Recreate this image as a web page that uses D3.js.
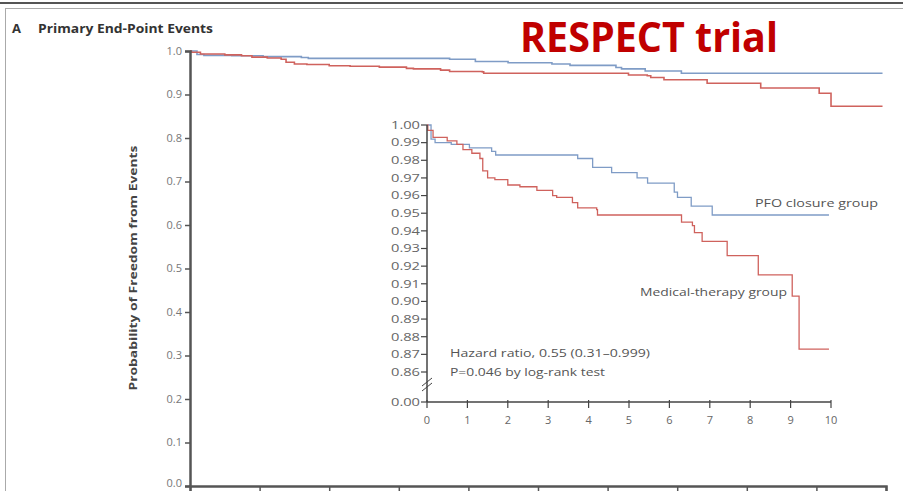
<!DOCTYPE html>
<html>
<head>
<meta charset="utf-8">
<script src="https://cdn.jsdelivr.net/npm/d3@7"></script>
<style>
body { margin: 0; background: #fff; }
text { font-family: "Open Sans", "DejaVu Sans", sans-serif; }
</style>
</head>
<body>
<div id="chart"></div>
<script>
var w = 903;
var h = 491;

// Kaplan-Meier steps (years, probability)
var pfoTimes = [0, 0.1, 0.2, 0.6, 1.05, 1.6, 1.7, 3.73, 4.1, 4.57, 5.2, 5.46, 6.12, 6.2, 6.54, 7.06, 9.95];
var pfoValues = [1.000, 0.992, 0.990, 0.989, 0.987, 0.985, 0.983, 0.981, 0.976, 0.973, 0.970, 0.967, 0.962, 0.959, 0.954, 0.949, 0.949];

var medTimes = [0, 0.02, 0.15, 0.5, 0.74, 0.89, 1.11, 1.31, 1.38, 1.5, 1.68, 2.0, 2.3, 2.72, 3.11, 3.21, 3.6, 3.73, 4.2, 4.22, 6.3, 6.57, 6.62, 6.81, 7.43, 8.2, 9.04, 9.21, 9.95];
var medValues = [1.000, 0.997, 0.993, 0.991, 0.989, 0.986, 0.984, 0.981, 0.974, 0.970, 0.969, 0.966, 0.965, 0.963, 0.960, 0.959, 0.956, 0.953, 0.952, 0.949, 0.945, 0.943, 0.939, 0.934, 0.926, 0.915, 0.903, 0.873, 0.873];

var yearTicks = [0, 1, 2, 3, 4, 5, 6, 7, 8, 9, 10];
var mainYTicks = [0, 0.1, 0.2, 0.3, 0.4, 0.5, 0.6, 0.7, 0.8, 0.9, 1.0];
var insetYTicks = [0.86, 0.87, 0.88, 0.89, 0.90, 0.91, 0.92, 0.93, 0.94, 0.95, 0.96, 0.97, 0.98, 0.99, 1.00];

var blue = "#7f9cc6";
var red = "#cf625d";

var pfo = pfoTimes.map(function(t, i) { return { t: t, v: pfoValues[i] }; });
var med = medTimes.map(function(t, i) { return { t: t, v: medValues[i] }; });

var svg = d3.select("#chart")
	.append("svg")
	.attr("width", w)
	.attr("height", h);

// frame
svg.append("line").attr("x1", 0).attr("x2", w).attr("y1", 3).attr("y2", 3)
	.attr("stroke", "#555").attr("stroke-width", 2);
svg.append("line").attr("x1", 5).attr("x2", w).attr("y1", 8.5).attr("y2", 8.5)
	.attr("stroke", "#aaa").attr("stroke-width", 1);
svg.append("line").attr("x1", 5.5).attr("x2", 5.5).attr("y1", 8).attr("y2", h)
	.attr("stroke", "#aaa").attr("stroke-width", 1);

svg.append("text")
	.attr("x", 12).attr("y", 33)
	.style("font-size", "13px").style("font-weight", "bold").attr("fill", "#333")
	.text("A");
svg.append("text")
	.attr("x", 38).attr("y", 33)
	.attr("textLength", 175).attr("lengthAdjust", "spacingAndGlyphs")
	.style("font-size", "11.5px").style("font-weight", "bold").attr("fill", "#333")
	.text("Primary End-Point Events");

svg.append("text")
	.attr("x", 520).attr("y", 52)
	.attr("textLength", 258).attr("lengthAdjust", "spacingAndGlyphs")
	.style("font-size", "42px").style("font-weight", "bold").attr("fill", "#c00000")
	.text("RESPECT trial");

// main plot
var xScale = d3.scaleLinear().domain([0, 10]).range([190, 886]);
var yScale = d3.scaleLinear().domain([0, 1]).range([486, 51]);

var mainLine = d3.line()
	.curve(d3.curveStepAfter)
	.x(function(d) { return xScale(d.t); })
	.y(function(d) { return yScale(d.v); });

svg.append("path").datum(pfo).attr("d", mainLine)
	.attr("fill", "none").attr("stroke", blue).attr("stroke-width", 1.6);
svg.append("path").datum(med).attr("d", mainLine)
	.attr("fill", "none").attr("stroke", red).attr("stroke-width", 1.6);

var yAxis = d3.axisLeft(yScale).tickValues(mainYTicks).tickFormat(d3.format(".1f")).tickSize(5).tickPadding(3);
var gy = svg.append("g").attr("transform", "translate(190,0)").call(yAxis);
// year labels of the main axis fall below the visible area
var xAxis = d3.axisBottom(xScale).tickValues(yearTicks).tickFormat("").tickSize(6);
var gx = svg.append("g").attr("transform", "translate(0,486)").call(xAxis);

[gx, gy].forEach(function(g) {
	g.select(".domain").attr("stroke", "#555").attr("stroke-width", 2.5);
	g.selectAll(".tick line").attr("stroke", "#555").attr("stroke-width", 1.5);
	g.selectAll(".tick text").attr("fill", "#777").style("font-size", "11px")
		.style("font-family", "'Open Sans', sans-serif");
});
gy.selectAll(".tick text").attr("dy", function(d) { return d === 0 ? "0.05em" : "0.3em"; });

svg.append("text")
	.attr("transform", "translate(137,268) rotate(-90)")
	.style("text-anchor", "middle")
	.attr("textLength", 245).attr("lengthAdjust", "spacingAndGlyphs")
	.style("font-size", "11px").style("font-weight", "bold").attr("fill", "#444")
	.text("Probability of Freedom from Events");

// inset
var ix = d3.scaleLinear().domain([0, 10]).range([427, 831]);
var iy = d3.scaleLinear().domain([0.86, 1.0]).range([372, 125]);
var iBase = 402;

var insetLine = d3.line()
	.curve(d3.curveStepAfter)
	.x(function(d) { return ix(d.t); })
	.y(function(d) { return iy(d.v); });

svg.append("path").datum(pfo).attr("d", insetLine)
	.attr("fill", "none").attr("stroke", blue).attr("stroke-width", 1.3);
svg.append("path").datum(med).attr("d", insetLine)
	.attr("fill", "none").attr("stroke", red).attr("stroke-width", 1.3);

var ig = svg.append("g");
ig.append("line").attr("x1", 427).attr("x2", 427).attr("y1", iy(1.0)).attr("y2", iBase)
	.attr("stroke", "#444").attr("stroke-width", 1.5);
ig.append("line").attr("x1", 427).attr("x2", 831).attr("y1", iBase).attr("y2", iBase)
	.attr("stroke", "#444").attr("stroke-width", 1.5);

ig.selectAll(".yt").data(insetYTicks).enter().append("line")
	.attr("x1", 421).attr("x2", 427)
	.attr("y1", function(d) { return iy(d); }).attr("y2", function(d) { return iy(d); })
	.attr("stroke", "#444").attr("stroke-width", 1.2);
ig.selectAll(".yl").data(insetYTicks).enter().append("text")
	.attr("x", 420).attr("y", function(d) { return iy(d) + 3.8; })
	.attr("text-anchor", "end").attr("textLength", 29).attr("lengthAdjust", "spacingAndGlyphs")
	.style("font-size", "11px").attr("fill", "#666")
	.text(function(d) { return d3.format(".2f")(d); });

ig.append("line").attr("x1", 421).attr("x2", 427).attr("y1", iBase).attr("y2", iBase)
	.attr("stroke", "#444").attr("stroke-width", 1.2);
ig.append("text").attr("x", 420).attr("y", iBase + 3.8)
	.attr("text-anchor", "end").attr("textLength", 29).attr("lengthAdjust", "spacingAndGlyphs")
	.style("font-size", "11px").attr("fill", "#666")
	.text("0.00");

// axis break
[0, 5].forEach(function(off) {
	ig.append("line")
		.attr("x1", 422).attr("x2", 432)
		.attr("y1", 386 + off).attr("y2", 378 + off)
		.attr("stroke", "#444").attr("stroke-width", 1);
});

ig.selectAll(".xt").data(yearTicks).enter().append("line")
	.attr("x1", function(d) { return ix(d); }).attr("x2", function(d) { return ix(d); })
	.attr("y1", iBase - 2).attr("y2", iBase + 6)
	.attr("stroke", "#444").attr("stroke-width", 1.2);
ig.selectAll(".xl").data(yearTicks).enter().append("text")
	.attr("x", function(d) { return ix(d); }).attr("y", iBase + 22)
	.attr("text-anchor", "middle").style("font-size", "11px").attr("fill", "#666")
	.text(function(d) { return d; });

ig.append("text").attr("x", 755).attr("y", 207)
	.attr("textLength", 123).attr("lengthAdjust", "spacingAndGlyphs")
	.style("font-size", "11px").attr("fill", "#555").text("PFO closure group");
ig.append("text").attr("x", 640).attr("y", 296)
	.attr("textLength", 147).attr("lengthAdjust", "spacingAndGlyphs")
	.style("font-size", "11px").attr("fill", "#555").text("Medical-therapy group");
ig.append("text").attr("x", 450).attr("y", 357)
	.attr("textLength", 200).attr("lengthAdjust", "spacingAndGlyphs")
	.style("font-size", "11px").attr("fill", "#555").text("Hazard ratio, 0.55 (0.31\u20130.999)");
ig.append("text").attr("x", 450).attr("y", 376)
	.attr("textLength", 155).attr("lengthAdjust", "spacingAndGlyphs")
	.style("font-size", "11px").attr("fill", "#555").text("P=0.046 by log-rank test");
</script>
</body>
</html>
